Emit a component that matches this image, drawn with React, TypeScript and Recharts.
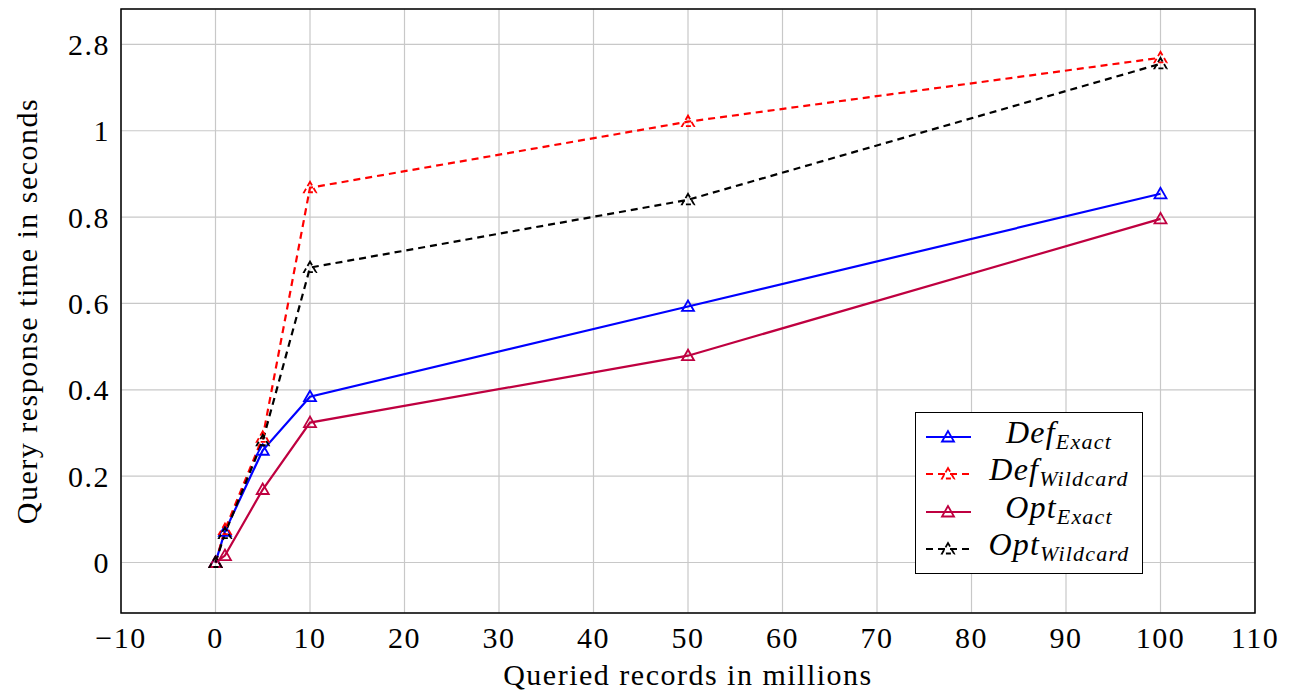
import { LineChart, Line, XAxis, YAxis, CartesianGrid, ReferenceArea } from "recharts";

const records = [0, 1, 5, 10, 50, 100];
const defExact = [0, 0.072, 0.26, 0.384, 0.593, 0.854];
const defWildcard = [0, 0.076, 0.29, 0.868, 1.021, 1.169];
const optExact = [0, 0.016, 0.169, 0.324, 0.479, 0.796];
const optWildcard = [0, 0.067, 0.282, 0.683, 0.84, 1.155];

const xTicks = [-10, 0, 10, 20, 30, 40, 50, 60, 70, 80, 90, 100, 110];
const yTicks = [0, 0.2, 0.4, 0.6, 0.8, 1, 1.2];
// the top tick is labelled 2.8 in the original figure
const yTickLabels = ["0", "0.2", "0.4", "0.6", "0.8", "1", "2.8"];

const series = [
  { key: "defExact", base: "Def", sub: "Exact", color: "#0000ff", dashed: false },
  { key: "defWildcard", base: "Def", sub: "Wildcard", color: "#ff0000", dashed: true },
  { key: "optExact", base: "Opt", sub: "Exact", color: "#bf0040", dashed: false },
  { key: "optWildcard", base: "Opt", sub: "Wildcard", color: "#000000", dashed: true },
];

const data = records.map((r, i) => ({
  records: r,
  defExact: defExact[i],
  defWildcard: defWildcard[i],
  optExact: optExact[i],
  optWildcard: optWildcard[i],
}));

const FONT = "'Liberation Serif', 'DejaVu Serif', serif";
const textStyle = { fontFamily: FONT, fontSize: 30, letterSpacing: 1.5 };

function Triangle(props: any) {
  const { cx, cy, stroke, dashed } = props;
  if (cx == null || cy == null) return null;
  const s = 6;
  const pts = `${cx},${cy - s} ${cx - s},${cy + s * 0.75} ${cx + s},${cy + s * 0.75}`;
  return (
    <polygon
      points={pts}
      fill="none"
      stroke={stroke}
      strokeWidth={1.8}
      strokeDasharray={dashed ? "5 3" : undefined}
    />
  );
}

function LegendBox() {
  return (
    <div
      style={{
        position: "absolute",
        left: 915,
        top: 412,
        border: "1px solid #000",
        background: "#fff",
        width: 226,
        padding: "5px 0 5px 0",
        fontFamily: FONT,
      }}
    >
      {series.map((s) => (
        <div key={s.key} style={{ display: "flex", alignItems: "center", height: 37.5 }}>
          <svg width={60} height={20}>
            <line
              x1={10}
              x2={55}
              y1={10}
              y2={10}
              stroke={s.color}
              strokeWidth={2}
              strokeDasharray={s.dashed ? "7 5" : undefined}
            />
            <Triangle cx={32} cy={10} stroke={s.color} dashed={s.dashed} />
          </svg>
          <div style={{ flex: 1, textAlign: "center", fontStyle: "italic", fontSize: 32, color: "#000", letterSpacing: 1.2, lineHeight: "30px" }}>
            {s.base}
            <sub style={{ fontSize: 22, verticalAlign: "-6px" }}>{s.sub}</sub>
          </div>
        </div>
      ))}
    </div>
  );
}

export default function App() {
  return (
    <div style={{ position: "absolute", left: 0, top: 0, width: 1294, height: 698, background: "#fff" }}>
      <LineChart
        width={1294}
        height={698}
        data={data}
        margin={{ top: 9, right: 39, bottom: 0, left: 0 }}
        style={{ fontFamily: FONT }}
      >
        <CartesianGrid stroke="#c8c8c8" strokeWidth={1.2} />
        <XAxis
          dataKey="records"
          type="number"
          domain={[-10, 110]}
          ticks={xTicks}
          allowDataOverflow
          axisLine={false}
          tickLine={false}
          height={85}
          tick={{ fill: "#000", ...textStyle }}
          tickFormatter={(v: number) => (v < 0 ? `\u2212${Math.abs(v)}` : `${v}`)}
          tickMargin={8}
          label={{ value: "Queried records in millions", position: "insideBottom", offset: 13, fill: "#000", style: textStyle }}
        />
        <YAxis
          type="number"
          domain={[-0.117, 1.282]}
          ticks={yTicks}
          allowDataOverflow
          axisLine={false}
          tickLine={false}
          width={121}
          tick={{ fill: "#000", ...textStyle }}
          tickMargin={5}
          tickFormatter={(v: number) => yTickLabels[yTicks.indexOf(v)] ?? String(v)}
          label={{
            value: "Query response time in seconds",
            angle: -90,
            position: "insideLeft",
            offset: 26,
            fill: "#000",
            style: { ...textStyle, textAnchor: "middle" },
          }}
        />
        <ReferenceArea x1={-10} x2={110} y1={-0.117} y2={1.282} fill="none" stroke="#000" strokeWidth={1.5} ifOverflow="visible" />
        {series.map((s) => (
          <Line
            key={s.key}
            dataKey={s.key}
            type="linear"
            stroke={s.color}
            strokeWidth={2.2}
            strokeDasharray={s.dashed ? "7 5" : undefined}
            dot={(p: any) => <Triangle key={`${s.key}-${p.index}`} cx={p.cx} cy={p.cy} stroke={s.color} dashed={s.dashed} />}
            activeDot={false}
            isAnimationActive={false}
          />
        ))}
      </LineChart>
      <LegendBox />
    </div>
  );
}
